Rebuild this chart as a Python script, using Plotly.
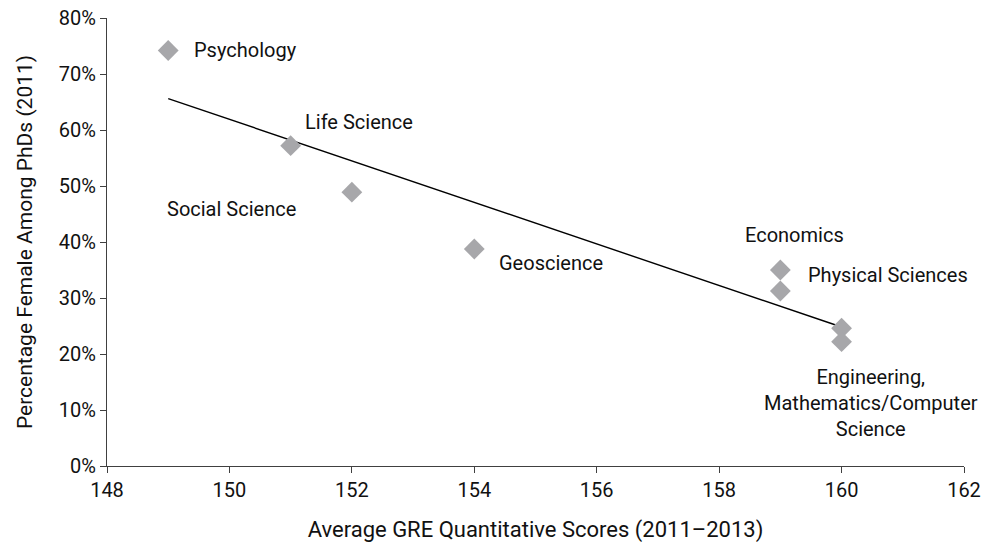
import numpy as np
import plotly.graph_objects as go

# fields, GRE quant score, % female among PhDs
fields = ["Psychology", "Life Science", "Social Science", "Geoscience",
          "Economics", "Physical Sciences", "Engineering",
          "Mathematics/Computer Science"]
gre_scores = [149, 151, 152, 154, 159, 159, 160, 160]
pct_female = [74.2, 57.2, 48.9, 38.75, 35.0, 31.25, 24.6, 22.2]

x_ticks = [148, 150, 152, 154, 156, 158, 160, 162]
y_ticks = [0, 10, 20, 30, 40, 50, 60, 70, 80]

FONT = "Roboto, sans-serif"
INK = "#111111"

# least squares trend line
slope, intercept = np.polyfit(gre_scores, pct_female, 1)
trend_x = np.array([min(gre_scores), max(gre_scores)])
trend_y = slope * trend_x + intercept

fig = go.Figure()
fig.add_trace(go.Scatter(x=trend_x, y=trend_y, mode="lines",
                         line=dict(color="black", width=1.4),
                         hoverinfo="skip"))
fig.add_trace(go.Scatter(x=gre_scores, y=pct_female, mode="markers",
                         text=fields,
                         marker=dict(symbol="diamond", size=16,
                                     color="#a7a7aa")))

# label text and placement for each point
labels = ["Psychology", "Life Science", "Social Science", "Geoscience",
          "Economics", "Physical Sciences", "",
          "Engineering,<br>Mathematics/Computer<br>Science"]
label_style = [("left", 24, 0), ("left", 12, 24), ("right", -54, -17),
               ("left", 23, -14), ("center", 14, 35), ("left", 26, 16),
               ("left", 0, 0), ("center", 29, -61)]

for gx, py, lab, (anchor, dx, dy) in zip(gre_scores, pct_female,
                                         labels, label_style):
    if not lab:
        continue
    fig.add_annotation(x=gx, y=py, text=lab, showarrow=False,
                       xanchor=anchor, yanchor="middle",
                       xshift=dx, yshift=dy, align="center",
                       font=dict(family=FONT, size=20, color=INK))

fig.update_xaxes(range=[148, 162], tickvals=x_ticks, ticks="outside",
                 ticklen=6, tickcolor="#404040", showline=True,
                 linecolor="#404040", linewidth=1.4, showgrid=False,
                 zeroline=False, automargin=False,
                 tickfont=dict(family=FONT, size=20, color=INK),
                 title=dict(text="Average GRE Quantitative Scores (2011–2013)",
                            font=dict(family=FONT, size=22, color=INK),
                            standoff=20))
fig.update_yaxes(range=[0, 80], tickvals=y_ticks,
                 ticktext=[f"{v}%" for v in y_ticks], ticks="outside",
                 ticklen=6, tickcolor="#404040", showline=True,
                 linecolor="#404040", linewidth=1.4, showgrid=False,
                 zeroline=False, automargin=False,
                 tickfont=dict(family=FONT, size=20, color=INK),
                 title=dict(text="Percentage Female Among PhDs (2011)",
                            font=dict(family=FONT, size=21, color=INK),
                            standoff=20))
fig.update_layout(width=986, height=544, showlegend=False,
                  plot_bgcolor="white", paper_bgcolor="white",
                  margin=dict(l=107, r=22, t=18, b=78),
                  font=dict(family=FONT, size=20, color=INK))

# drop the default body margin so the figure sits at the page corner
fig.write_html("out.html", config={"displayModeBar": False},
               post_script="document.body.style.margin='0';")
